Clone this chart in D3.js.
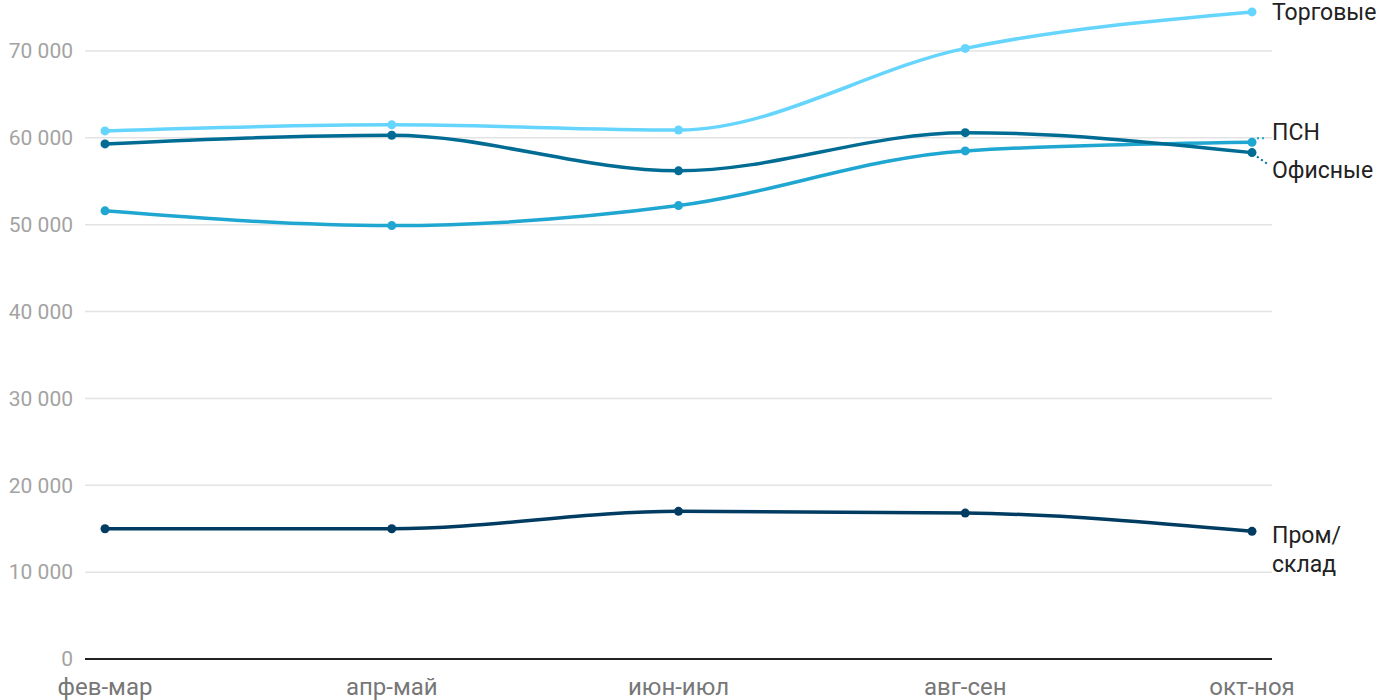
<!DOCTYPE html>
<html><head><meta charset="utf-8">
<script src="https://cdn.jsdelivr.net/npm/d3@7"></script>
<style>body{margin:0;background:#fff;font-family:Roboto,"Noto Sans",sans-serif;}</style>
</head><body><svg id="c" width="1400" height="700"></svg>
<script>
const categories = ["фев-мар","апр-май","июн-июл","авг-сен","окт-ноя"];
const seriesNames = ["Торговые","ПСН","Офисные","Пром/склад"];
const torgovye = [60800, 61500, 60900, 70300, 74500];
const psn = [51600, 49900, 52200, 58500, 59500];
const ofisnye = [59300, 60300, 56200, 60600, 58300];
const prom = [15000, 15000, 17000, 16800, 14700];
const yTicks = [0,10000,20000,30000,40000,50000,60000,70000];
const colors = ["#66d5fd","#1fa6d1","#006c94","#003c61"];

const series = [
  {name:"Торговые", values:torgovye, color:colors[0], label:["Торговые"], ly:0},
  {name:"ПСН", values:psn, color:colors[1], label:["ПСН"], ly:-10},
  {name:"Офисные", values:ofisnye, color:colors[2], label:["Офисные"], ly:17},
  {name:"Пром/склад", values:prom, color:colors[3], label:["Пром/","склад"], ly:4}
];

const svg = d3.select("#c");
const x = d3.scalePoint().domain(categories).range([105,1252]);
const y = d3.scaleLinear().domain([0,70000]).range([659,51]);
const fmt = v => d3.format(",")(v).replace(/,/g," ");

// grid
svg.append("g").selectAll("line").data(yTicks.filter(d=>d>0)).join("line")
  .attr("x1",85).attr("x2",1272).attr("y1",d=>y(d)).attr("y2",d=>y(d))
  .attr("stroke","#e3e3e3").attr("stroke-width",1.5);
// y labels
svg.append("g").selectAll("text").data(yTicks).join("text")
  .attr("x",73).attr("y",d=>y(d)).attr("dy","0.35em").attr("text-anchor","end")
  .attr("fill","#a3a3a3").attr("font-size",21).text(fmt);
// baseline
svg.append("line").attr("x1",85).attr("x2",1272).attr("y1",y(0)).attr("y2",y(0))
  .attr("stroke","#222").attr("stroke-width",2);
// x labels
svg.append("g").selectAll("text").data(categories).join("text")
  .attr("x",d=>x(d)).attr("y",695).attr("text-anchor","middle")
  .attr("fill","#777").attr("font-size",24).text(d=>d);

const line = d3.line().x((d,i)=>x(categories[i])).y(d=>y(d)).curve(d3.curveMonotoneX);

const order = [3,1,2,0];
order.forEach(k=>{
  const s = series[k];
  const g = svg.append("g");
  g.append("path").attr("d",line(s.values)).attr("fill","none")
    .attr("stroke",s.color).attr("stroke-width",3.5).attr("stroke-linejoin","round");
  g.selectAll("circle").data(s.values).join("circle")
    .attr("cx",(d,i)=>x(categories[i])).attr("cy",d=>y(d)).attr("r",4.5).attr("fill",s.color);
});

// labels
series.forEach(s=>{
  const last = s.values[s.values.length-1];
  const px = x(categories[categories.length-1]);
  const py = y(last);
  const ly = py + s.ly;
  if(s.name==="ПСН" || s.name==="Офисные"){
    const up = s.ly<0;
    svg.append("line").attr("x1",px+5).attr("y1",py+(up?-4:4))
      .attr("x2",px+15).attr("y2",ly+(up?6:-6))
      .attr("stroke",s.color).attr("stroke-width",2).attr("stroke-dasharray","2,3");
  }
  const t = svg.append("text").attr("x",1272).attr("fill","#222").attr("font-size",23);
  if(s.label.length===1){
    t.attr("y",ly).attr("dy","0.35em").text(s.label[0]);
  } else {
    s.label.forEach((l,i)=>{
      t.append("tspan").attr("x",1272).attr("y",ly + i*29).attr("dy","0.35em").text(l);
    });
  }
});
</script></body></html>
